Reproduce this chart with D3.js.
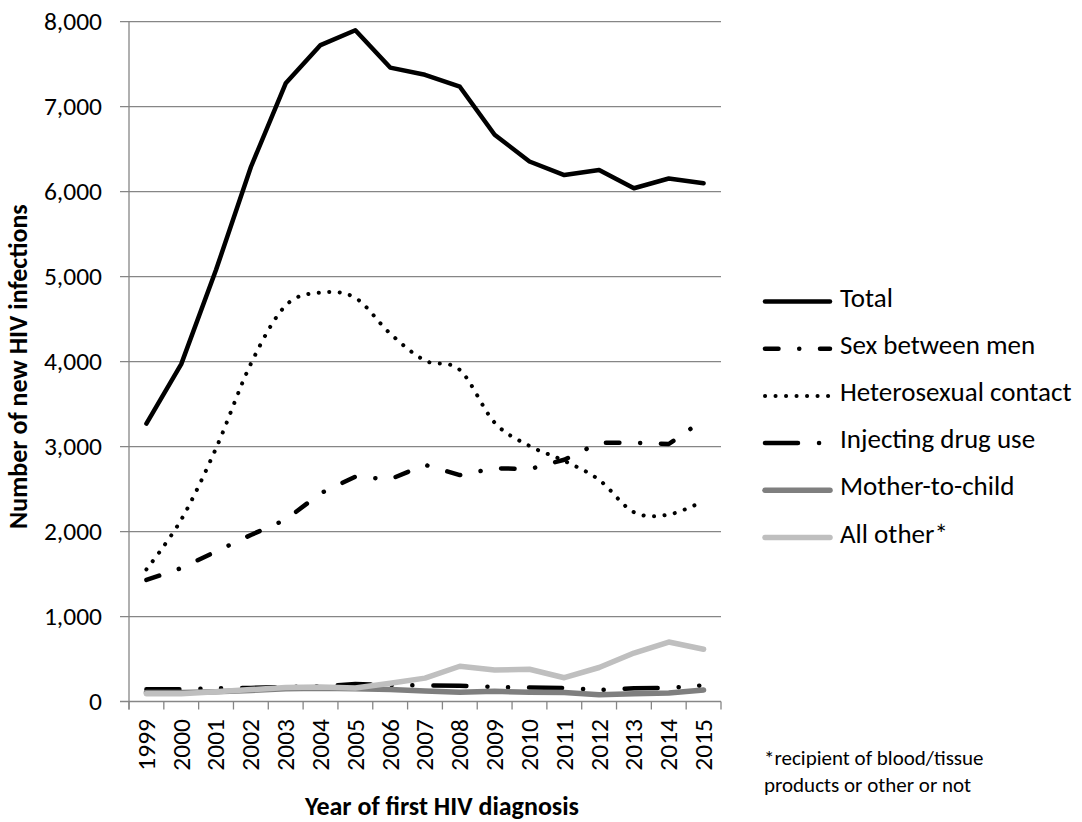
<!DOCTYPE html>
<html>
<head>
<meta charset="utf-8">
<script src="https://cdn.jsdelivr.net/npm/d3@7"></script>
<style>
  html, body { margin: 0; padding: 0; background: #fff; }
  svg { display: block; }
  text { font-family: Calibri, Carlito, "Open Sans", sans-serif; fill: #000; }
</style>
</head>
<body>
<svg id="chart" width="1082" height="822"></svg>
<script>
const years = ["1999","2000","2001","2002","2003","2004","2005","2006","2007","2008","2009","2010","2011","2012","2013","2014","2015"];
const total = [3270, 3970, 5080, 6290, 7275, 7725, 7900, 7460, 7375, 7235, 6670, 6355, 6195, 6255, 6040, 6155, 6100];
const sexBetweenMen = [1430, 1570, 1765, 1960, 2140, 2450, 2645, 2615, 2785, 2665, 2745, 2735, 2845, 3045, 3045, 3030, 3315];
const heterosexual = [1555, 2140, 2980, 3975, 4660, 4812, 4750, 4330, 4012, 3902, 3282, 3008, 2832, 2608, 2228, 2200, 2360];
const injectingDrugUse = [145, 145, 155, 160, 170, 180, 205, 195, 190, 185, 170, 165, 160, 135, 155, 160, 190];
const motherToChild = [105, 105, 115, 130, 150, 155, 150, 140, 125, 110, 120, 110, 105, 80, 90, 100, 135];
const allOther = [90, 90, 115, 140, 165, 170, 160, 215, 275, 415, 370, 380, 280, 400, 570, 700, 615];
const yTicks = [0, 1000, 2000, 3000, 4000, 5000, 6000, 7000, 8000];
const seriesNames = ["Total", "Sex between men", "Heterosexual contact", "Injecting drug use", "Mother-to-child", "All other*"];
const footnoteLines = ["*recipient of blood/tissue", "products or other or not"];
const xTitle = "Year of first HIV diagnosis";
const yTitle = "Number of new HIV infections";

const seriesValues = [total, sexBetweenMen, heterosexual, injectingDrugUse, motherToChild, allOther];
const styles = [
  { color: "#000000", width: 4.5, dash: null, cap: "round", smooth: false },
  { color: "#000000", width: 4.5, dash: "13.5,20.7,0.1,20.7", cap: "round", smooth: false },
  { color: "#000000", width: 4, dash: "0.1,10.4", cap: "round", smooth: true },
  { color: "#000000", width: 4.5, dash: "33,21,0.1,20.5,0.1,21", cap: "round", smooth: false },
  { color: "#7f7f7f", width: 5.5, dash: null, cap: "round", smooth: false },
  { color: "#bfbfbf", width: 5.5, dash: null, cap: "round", smooth: false }
];

const svg = d3.select("#chart");
svg.append("rect").attr("width", 1082).attr("height", 822).attr("fill", "#fff");

const plotLeft = 129, plotRight = 721, plotTop = 21.7, plotBottom = 701.5;
const x = d3.scaleBand().domain(years).range([plotLeft, plotRight]);
const y = d3.scaleLinear().domain([0, 8000]).range([plotBottom, plotTop]);
const gridColor = "#868686";

// gridlines
svg.append("g").selectAll("line").data(yTicks).join("line")
  .attr("x1", plotLeft - 9).attr("x2", plotRight)
  .attr("y1", d => y(d)).attr("y2", d => y(d))
  .attr("stroke", gridColor).attr("stroke-width", 1.3);

// y axis line
svg.append("line").attr("x1", plotLeft).attr("x2", plotLeft).attr("y1", plotTop).attr("y2", plotBottom + 8)
  .attr("stroke", gridColor).attr("stroke-width", 1.3);

// x tick marks at band boundaries
const boundaries = years.map(d => x(d)).concat([plotRight]);
svg.append("g").selectAll("line").data(boundaries).join("line")
  .attr("x1", d => d).attr("x2", d => d)
  .attr("y1", plotBottom).attr("y2", plotBottom + 8)
  .attr("stroke", gridColor).attr("stroke-width", 1.3);

// y tick labels
svg.append("g").selectAll("text").data(yTicks).join("text")
  .attr("x", 102).attr("y", d => y(d)).attr("dy", "0.33em")
  .attr("text-anchor", "end").attr("font-size", 25.5)
  .text(d => d3.format(",")(d));

// x tick labels
svg.append("g").selectAll("text").data(years).join("text")
  .attr("transform", d => `translate(${x(d) + x.bandwidth() / 2},${719}) rotate(-90)`)
  .attr("dy", "0.33em").attr("text-anchor", "end").attr("font-size", 25.5)
  .text(d => d);

// axis titles
svg.append("text").attr("x", 442).attr("y", 815).attr("text-anchor", "middle")
  .attr("font-size", 26).attr("font-weight", "bold").text(xTitle);
svg.append("text").attr("transform", `translate(27,${(plotTop + plotBottom) / 2 + 5}) rotate(-90)`)
  .attr("text-anchor", "middle").attr("font-size", 26).attr("font-weight", "bold").text(yTitle);

// lines
const cx = d => x(d) + x.bandwidth() / 2;
seriesValues.forEach((vals, i) => {
  const st = styles[i];
  const gen = d3.line().x((v, j) => cx(years[j])).y(v => y(v))
    .curve(st.smooth ? d3.curveCatmullRom.alpha(0) : d3.curveLinear);
  svg.append("path").datum(vals).attr("d", gen)
    .attr("fill", "none").attr("stroke", st.color).attr("stroke-width", st.width)
    .attr("stroke-linecap", st.cap).attr("stroke-linejoin", "round")
    .attr("stroke-dasharray", st.dash);
});

// legend
const legY0 = 301.5, legStep = 47.2;
const leg = svg.append("g");
seriesNames.forEach((name, i) => {
  const st = styles[i];
  const ly = legY0 + i * legStep;
  leg.append("line").attr("x1", 765).attr("x2", 830).attr("y1", ly).attr("y2", ly)
    .attr("stroke", st.color).attr("stroke-width", st.width)
    .attr("stroke-linecap", st.cap).attr("stroke-dasharray", st.dash);
  leg.append("text").attr("x", 840).attr("y", ly + 5).attr("font-size", 27).text(name);
});

// footnote
svg.append("g").selectAll("text").data(footnoteLines).join("text")
  .attr("x", 764).attr("y", (d, i) => 765 + i * 26.5).attr("font-size", 21).text(d => d);
</script>
</body>
</html>
